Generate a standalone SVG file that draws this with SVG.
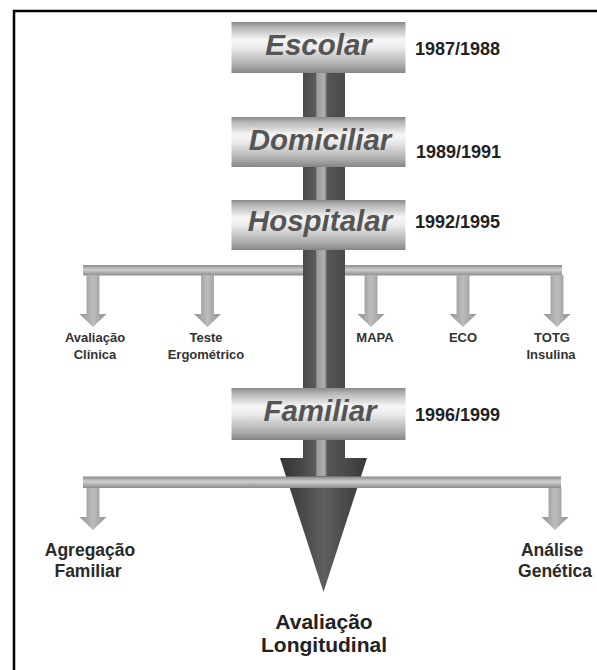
<svg xmlns="http://www.w3.org/2000/svg" width="597" height="670" viewBox="0 0 597 670">
<defs>
<linearGradient id="gBox" x1="0" y1="0" x2="0" y2="1">
<stop offset="0" stop-color="#8a8a8a"/>
<stop offset="0.1" stop-color="#b4b4b4"/>
<stop offset="0.35" stop-color="#f6f6f6"/>
<stop offset="0.5" stop-color="#ebebeb"/>
<stop offset="0.85" stop-color="#ababab"/>
<stop offset="1" stop-color="#858585"/>
</linearGradient>
<linearGradient id="gBar" x1="0" y1="0" x2="0" y2="1">
<stop offset="0" stop-color="#8a8a8a"/>
<stop offset="0.45" stop-color="#cfcfcf"/>
<stop offset="1" stop-color="#8c8c8c"/>
</linearGradient>
<linearGradient id="gArrow" x1="0" y1="0" x2="1" y2="0">
<stop offset="0" stop-color="#909090"/>
<stop offset="0.5" stop-color="#bcbcbc"/>
<stop offset="1" stop-color="#909090"/>
</linearGradient>
<linearGradient id="gShaft" x1="0" y1="0" x2="1" y2="0">
<stop offset="0" stop-color="#4a4a4a"/>
<stop offset="0.3" stop-color="#5a5a5a"/>
<stop offset="0.33" stop-color="#9a9a9a"/>
<stop offset="0.5" stop-color="#b0b0b0"/>
<stop offset="0.55" stop-color="#8a8a8a"/>
<stop offset="0.57" stop-color="#555555"/>
<stop offset="1" stop-color="#4a4a4a"/>
</linearGradient>
<linearGradient id="gCone" x1="0" y1="0" x2="1" y2="0">
<stop offset="0" stop-color="#333333"/>
<stop offset="0.5" stop-color="#5e5e5e"/>
<stop offset="1" stop-color="#383838"/>
</linearGradient>
<path id="arr" d="M-6.5,0 H6.5 V39 H13.5 L0,52 L-13.5,39 H-6.5 Z"/>
<path id="arr2" d="M-6.5,0 H6.5 V29 H13.5 L0,42 L-13.5,29 H-6.5 Z"/>
</defs>
<style>
.box{fill:url(#gBox);}
.bar{fill:url(#gBar);}
.arrow{fill:url(#gArrow);}
.lbl{font-family:"Liberation Sans",Arial,sans-serif;font-weight:bold;font-style:italic;font-size:29.5px;fill:#555;text-anchor:middle;}
.yr{font-family:"Liberation Sans",Arial,sans-serif;font-weight:bold;font-size:18px;fill:#222;}
.sm{font-family:"Liberation Sans",Arial,sans-serif;font-weight:bold;font-size:13px;fill:#333;text-anchor:middle;}
.md{font-family:"Liberation Sans",Arial,sans-serif;font-weight:bold;font-size:17.5px;fill:#2a2a2a;text-anchor:middle;}
.lg{font-family:"Liberation Sans",Arial,sans-serif;font-weight:bold;font-size:21px;fill:#222;text-anchor:middle;}
</style>
<rect width="597" height="670" fill="#fff"/>
<rect x="14" y="11" width="700" height="700" fill="none" stroke="#000" stroke-width="2.5"/>

<g id="connectors">
<rect class="bar" x="83" y="265" width="479" height="10.5"/>
<rect x="303" y="73" width="42" height="385" fill="url(#gShaft)"/>
<polygon points="280,458 367,458 323.5,592" fill="url(#gCone)"/>
<rect x="303" y="440" width="42" height="36" fill="url(#gShaft)"/>
<rect class="bar" x="83" y="476.5" width="478" height="11.5"/>
<use href="#arr" class="arrow" x="93" y="275"/>
<use href="#arr" class="arrow" x="207.5" y="275"/>
<use href="#arr" class="arrow" x="371" y="275"/>
<use href="#arr" class="arrow" x="463" y="275"/>
<use href="#arr" class="arrow" x="557" y="275"/>
<use href="#arr2" class="arrow" x="93" y="488"/>
<use href="#arr2" class="arrow" x="555" y="488"/>
</g>

<g id="escolar">
<rect class="box" x="231.5" y="22" width="174" height="51"/>
<text class="lbl" x="318.5" y="55">Escolar</text>
<text class="yr" x="415" y="55">1987/1988</text>
</g>
<g id="domiciliar">
<rect class="box" x="231.5" y="117" width="174" height="50"/>
<text class="lbl" x="320" y="150">Domiciliar</text>
<text class="yr" x="416" y="158">1989/1991</text>
</g>
<g id="hospitalar">
<rect class="box" x="231.5" y="200" width="174" height="50"/>
<text class="lbl" x="320" y="231">Hospitalar</text>
<text class="yr" x="415" y="228">1992/1995</text>
</g>
<g id="familiar">
<rect class="box" x="231.5" y="388" width="174" height="52"/>
<text class="lbl" x="320" y="421">Familiar</text>
<text class="yr" x="415" y="421">1996/1999</text>
</g>

<g id="avaliacao-clinica"><text class="sm" x="95" y="342">Avaliação</text><text class="sm" x="95" y="359">Clínica</text></g>
<g id="teste-ergometrico"><text class="sm" x="206" y="342">Teste</text><text class="sm" x="206" y="359">Ergométrico</text></g>
<g id="mapa"><text class="sm" x="375" y="342">MAPA</text></g>
<g id="eco"><text class="sm" x="463" y="342">ECO</text></g>
<g id="totg"><text class="sm" x="552" y="342">TOTG</text><text class="sm" x="551" y="359">Insulina</text></g>

<g id="agregacao"><text class="md" x="90" y="556">Agregação</text><text class="md" x="88" y="577">Familiar</text></g>
<g id="analise"><text class="md" x="552" y="556">Análise</text><text class="md" x="555" y="577">Genética</text></g>
<g id="longitudinal"><text class="lg" x="324" y="629">Avaliação</text><text class="lg" x="324" y="652">Longitudinal</text></g>
</svg>
